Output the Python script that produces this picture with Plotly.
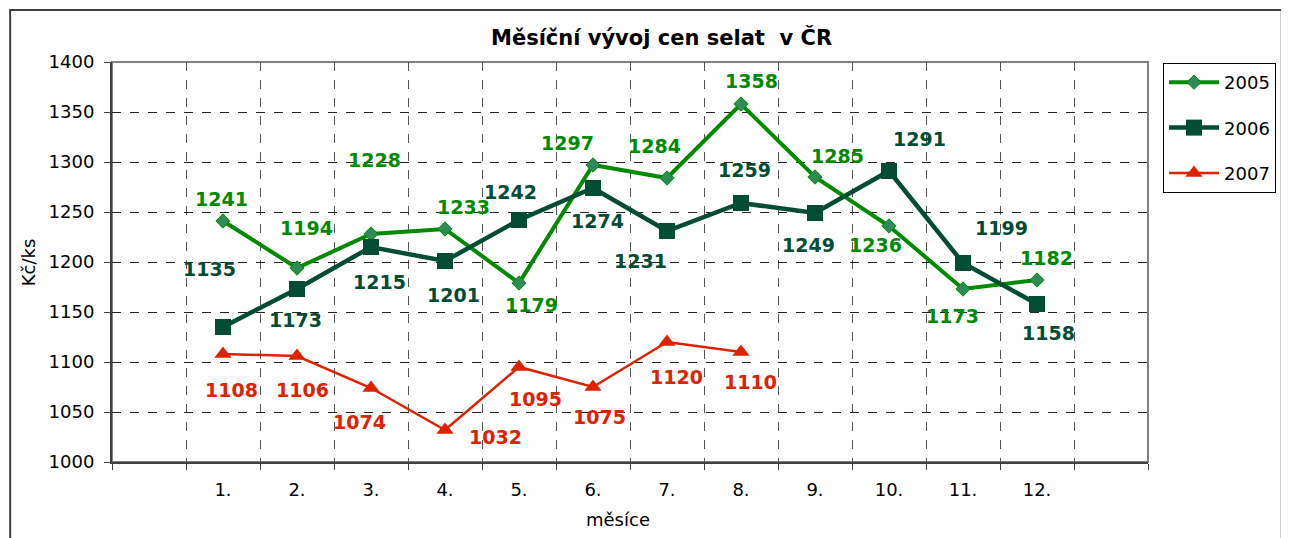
import plotly.graph_objects as go

# data
months = ["1.", "2.", "3.", "4.", "5.", "6.", "7.", "8.", "9.", "10.", "11.", "12."]
price_2005 = [1241, 1194, 1228, 1233, 1179, 1297, 1284, 1358, 1285, 1236, 1173, 1182]
price_2006 = [1135, 1173, 1215, 1201, 1242, 1274, 1231, 1259, 1249, 1291, 1199, 1158]
price_2007 = [1108, 1106, 1074, 1032, 1095, 1075, 1120, 1110]

# label offsets in px (dx, dy), hand placed like in the original
off_2005 = [(-2, 22), (9, 40), (3, 74), (18, 22), (12, -22), (-26, 22),
            (-13, 32), (10, 23), (22, 21), (-14, -19), (-11, -27), (9, 22)]
off_2006 = [(-14, 58), (-2, -31), (8, -35), (8, -34), (-9, 28), (4, -33),
            (-27, -30), (3, 33), (-7, -32), (30, 32), (38, 35), (11, -29)]
off_2007 = [(8, -36), (5, -34), (-12, -34), (50, -7), (16, -32), (6, -30),
            (9, -35), (9, -30)]

C05 = "#008a00"
C06 = "#004d33"
C07 = "#dd2200"
FONT = "DejaVu Sans"

# blank slot before and after the months, like the Excel chart
cats = [" "] + months + ["  "]

fig = go.Figure()
fig.add_trace(go.Scatter(
    x=months, y=price_2005, name="2005", mode="lines+markers",
    line=dict(color=C05, width=4),
    marker=dict(symbol="diamond", size=11, color="#2e8b57", line=dict(color=C05, width=1)),
    legendgroup="a",
))
fig.add_trace(go.Scatter(
    x=months, y=price_2006, name="2006", mode="lines+markers",
    line=dict(color=C06, width=4.5),
    marker=dict(symbol="square", size=16, color=C06),
    legendgroup="b",
))
fig.add_trace(go.Scatter(
    x=months[:len(price_2007)], y=price_2007, name="2007", mode="lines+markers",
    line=dict(color=C07, width=2.5),
    marker=dict(symbol="triangle-up", size=15, color=C07),
    legendgroup="c",
))

annotations = []
for vals, offs, col in [(price_2005, off_2005, C05), (price_2006, off_2006, C06),
                        (price_2007, off_2007, C07)]:
    for m, v, (dx, dy) in zip(months, vals, offs):
        annotations.append(dict(
            x=m, y=v, xref="x", yref="y", text=str(v), showarrow=False,
            xshift=dx, yshift=dy,
            font=dict(family=FONT, size=19, color=col, weight="bold"),
        ))

annotations += [
    dict(x=0.53, y=1.06, xref="paper", yref="paper", text="Měsíční vývoj cen selat  v ČR",
         showarrow=False, xanchor="center", yanchor="middle",
         font=dict(family=FONT, size=21, color="black", weight="bold")),
    dict(x=-0.0809, y=0.5, xref="paper", yref="paper", text="Kč/ks", textangle=-90,
         showarrow=False, xanchor="center", yanchor="middle",
         font=dict(family=FONT, size=18, color="black")),
    dict(x=0.488, y=-0.1425, xref="paper", yref="paper", text="měsíce",
         showarrow=False, xanchor="center", yanchor="middle",
         font=dict(family=FONT, size=18, color="black")),
]

shapes = [
    # outer chart frame
    dict(type="rect", xref="paper", yref="paper", x0=-0.0983, x1=1.1291, y0=-0.3, y1=1.13,
         line=dict(color="#404040", width=2), layer="below"),
    # plot area border
    dict(type="rect", xref="paper", yref="paper", x0=0, x1=1, y0=0, y1=1,
         line=dict(color="#808080", width=2), layer="below"),
]

# page body has an 8px margin, so the figure is sized to fit inside it
fig.update_layout(
    width=1280, height=530,
    margin=dict(l=104, r=138, t=54, b=76),
    paper_bgcolor="white", plot_bgcolor="white",
    font=dict(family=FONT, size=18, color="black"),
    showlegend=True,
    legend=dict(x=1.0145, y=0.9975, xanchor="left", yanchor="top",
                bordercolor="black", borderwidth=1, bgcolor="white",
                font=dict(family=FONT, size=18), tracegroupgap=19,
                traceorder="grouped", itemwidth=50),
    annotations=annotations,
    shapes=shapes,
)

fig.update_xaxes(
    type="category", categoryorder="array", categoryarray=cats, range=[-0.5, 13.5],
    tickson="boundaries", ticks="outside", ticklen=6, tickcolor="#404040",
    showgrid=True, gridcolor="#555555", griddash="dash", gridwidth=1,
    showline=True, linecolor="#404040", linewidth=2,
    tickfont=dict(family=FONT, size=18), ticklabelstandoff=10,
    zeroline=False,
)
fig.update_yaxes(
    range=[1000, 1400], dtick=50, tick0=1000,
    ticks="outside", ticklen=6, tickcolor="#404040",
    showgrid=True, gridcolor="#222222", griddash="dash", gridwidth=1,
    showline=True, linecolor="#404040", linewidth=2,
    tickfont=dict(family=FONT, size=18), ticklabelstandoff=6,
    zeroline=False,
)

fig.write_html("out.html")
